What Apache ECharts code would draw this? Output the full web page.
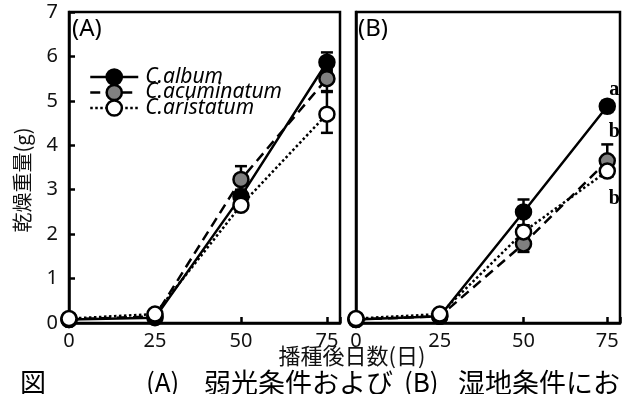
<!DOCTYPE html>
<html><head><meta charset="utf-8">
<script src="https://cdn.jsdelivr.net/npm/echarts@6/dist/echarts.min.js"></script>
<style>html,body{margin:0;padding:0;background:#fff}#c{width:623px;height:394px}</style>
</head><body><div id="c"></div>
<script>
const days = [0, 25, 50, 75];
const yTicks = [0, 1, 2, 3, 4, 5, 6, 7];
const names = ['C.album', 'C.acuminatum', 'C.aristatum'];
// Panel A
const A_album = [0.08, 0.12, 2.85, 5.87];
const A_acum  = [0.08, 0.15, 3.23, 5.50];
const A_arist = [0.10, 0.20, 2.65, 4.70];
// Panel B
const B_album = [0.08, 0.15, 2.50, 4.88];
const B_acum  = [0.08, 0.15, 1.78, 3.65];
const B_arist = [0.10, 0.20, 2.05, 3.42];
// error bars [day, low, high]
const A_err = [[75, 5.65, 6.09], [50, 2.95, 3.53], [75, 5.22, 5.70], [75, 4.28, 5.20], [50, 2.70, 3.00]];
const B_err = [[50, 2.20, 2.78], [75, 4.75, 5.00], [50, 1.60, 1.95], [75, 3.30, 4.02], [75, 3.30, 3.55], [50, 1.90, 2.20]];
const letters = ['a', 'b', 'b'];
const caption = ['図', '(A)', '弱光条件および', '(B)', '湿地条件にお'];

const fills = {'C.album': '#000', 'C.acuminatum': '#808080', 'C.aristatum': '#fff'};
const dashes = {'C.album': 'solid', 'C.acuminatum': [10, 6], 'C.aristatum': [2.5, 2.5]};
const order = ['C.acuminatum', 'C.album', 'C.aristatum'];

const chart = echarts.init(document.getElementById('c'));
const tickFont = {fontFamily: 'Noto Sans', fontSize: 20, color: '#111'};

function pairs(v){ return days.map((d,i)=>[d, v[i]]); }
const dataA = {'C.album': A_album, 'C.acuminatum': A_acum, 'C.aristatum': A_arist};
const dataB = {'C.album': B_album, 'C.acuminatum': B_acum, 'C.aristatum': B_arist};

function errRender(params, api){
  const x = api.value(0), lo = api.value(1), hi = api.value(2);
  const p1 = api.coord([x, lo]), p2 = api.coord([x, hi]);
  const w = 6;
  const style = {stroke:'#000', lineWidth:2.5, fill:null};
  return {type:'group', children:[
    {type:'line', shape:{x1:p1[0],y1:p1[1],x2:p2[0],y2:p2[1]}, style},
    {type:'line', shape:{x1:p1[0]-w,y1:p1[1],x2:p1[0]+w,y2:p1[1]}, style},
    {type:'line', shape:{x1:p2[0]-w,y1:p2[1],x2:p2[0]+w,y2:p2[1]}, style}
  ]};
}

const series = [];
[[dataA, 0, A_err], [dataB, 1, B_err]].forEach(([data, gi, err]) => {
  order.forEach(n => {
    series.push({type:'line', name:n, xAxisIndex:gi, yAxisIndex:gi, data:pairs(data[n]),
      showSymbol:false, symbol:'circle', z:2,
      itemStyle:{color:fills[n], borderColor:'#000', borderWidth:2.5},
      lineStyle:{color:'#000', width:2.5, type:dashes[n]}});
  });
  series.push({type:'custom', name:'err'+gi, xAxisIndex:gi, yAxisIndex:gi, data:err,
    renderItem:errRender, encode:{x:0, y:[1,2]}, z:3, silent:true});
  order.forEach(n => {
    const d = pairs(data[n]).map((p, i) => {
      const item = {value:p};
      if (gi === 1 && i === 3) {
        const li = names.indexOf(n);
        const off = n === 'C.album' ? [7, -16] : (n === 'C.acuminatum' ? [7, -29] : [7, 28]);
        item.label = {show:true, formatter:letters[li], position:'inside', offset:off,
          fontFamily:'Liberation Serif', fontWeight:'bold', fontSize:20, color:'#000'};
      }
      return item;
    });
    series.push({type:'scatter', name:n+'_m'+gi, xAxisIndex:gi, yAxisIndex:gi, data:d,
      symbol:'circle', symbolSize:15, z:4,
      itemStyle:{color:fills[n], borderColor:'#000', borderWidth:2.5, opacity:1}});
  });
});

const legends = names.map((n, i) => ({
  left: 89, top: [76, 91.5, 107][i] - 9.5, padding: 0, itemWidth: 48, itemHeight: 19,
  selectedMode:false,
  data:[{name:n, itemStyle:{color:fills[n], borderColor:'#000', borderWidth:2.5},
         lineStyle:{color:'#000', width:2.5, type:dashes[n]}}],
  textStyle:{fontFamily:'Noto Sans', fontStyle:'italic', fontSize:21, color:'#000', padding:[0,0,0,2]}
}));

function xAxis(gi){
  return {type:'value', gridIndex:gi, min:0, max:78.8, interval:25,
    axisLine:{show:true, onZero:false, lineStyle:{color:'#000', width:2.5}},
    axisTick:{show:true, inside:true, length:6, lineStyle:{color:'#000', width:2.5}},
    axisLabel:Object.assign({margin:8, showMaxLabel:true,
      formatter: v => (v % 25 === 0 ? String(v) : '')}, tickFont),
    splitLine:{show:false}};
}
function yAxis(gi){
  return {type:'value', gridIndex:gi, min:0, max:7, interval:1,
    axisLine:{show:true, onZero:false, lineStyle:{color:'#000', width:2.5}},
    axisTick:{show:gi===0, inside:true, length:6, lineStyle:{color:'#000', width:2.5}},
    axisLabel:Object.assign({show:gi===0, margin:11, formatter: v => (yTicks.includes(v) ? String(v) : '')}, tickFont),
    splitLine:{show:false}};
}

chart.setOption({
  animation:false,
  grid:[
    {left:69, top:12, width:271, height:311, show:true, borderColor:'#000', borderWidth:2.5},
    {left:356, top:12, width:271, height:311, show:true, borderColor:'#000', borderWidth:2.5}
  ],
  xAxis:[xAxis(0), xAxis(1)],
  yAxis:[yAxis(0), yAxis(1)],
  legend: legends,
  series: series,
  graphic:[
    {type:'text', left:72, top:17, style:{text:'(A)', fontFamily:'Noto Sans', fontSize:24, fill:'#000'}},
    {type:'text', left:358, top:17, style:{text:'(B)', fontFamily:'Noto Sans', fontSize:24, fill:'#000'}},
    {type:'text', x:22, y:180, rotation:Math.PI/2, style:{text:'乾燥重量(g)', fontFamily:'Noto Sans CJK JP', fontSize:20, fill:'#111', align:'center', verticalAlign:'middle'}},
    {type:'text', x:352, y:356, style:{text:'播種後日数(日)', fontFamily:'Noto Sans CJK JP', fontSize:22, fill:'#111', align:'center', verticalAlign:'middle'}},
    {type:'text', x:20, y:369, style:{text:caption[0], fontFamily:'Noto Sans CJK JP', fontSize:26, fill:'#000'}},
    {type:'text', x:146, y:369, style:{text:caption[1], fontFamily:'Noto Sans CJK JP', fontSize:26, fill:'#000'}},
    {type:'text', x:204, y:369, style:{text:caption[2], fontFamily:'Noto Sans CJK JP', fontSize:27, fill:'#000'}},
    {type:'text', x:404, y:369, style:{text:caption[3], fontFamily:'Noto Sans CJK JP', fontSize:26, fill:'#000'}},
    {type:'text', x:458, y:369, style:{text:caption[4], fontFamily:'Noto Sans CJK JP', fontSize:27, fill:'#000'}}
  ]
});
</script></body></html>
